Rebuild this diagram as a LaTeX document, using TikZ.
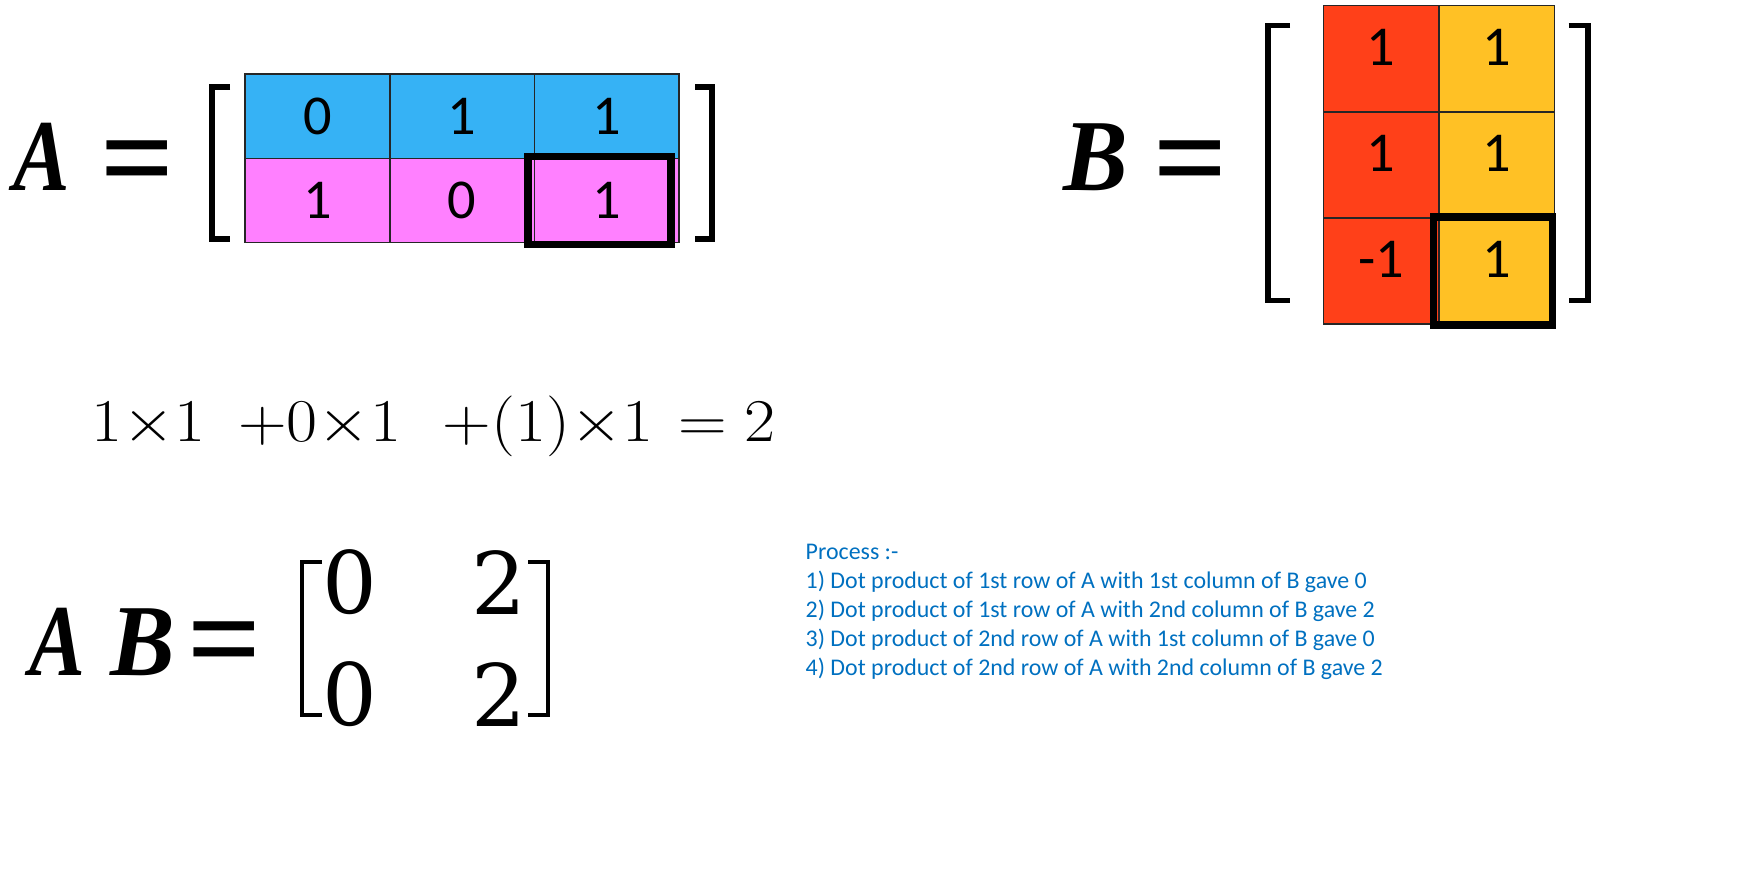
\documentclass[tikz,border=0pt]{standalone}
\usepackage{fontspec}
\newfontfamily\cellfont{Carlito}
\newfontfamily\letterfont{Liberation Serif}
\newfontfamily\entryfont{DejaVu Serif}
\definecolor{cellblue}{RGB}{54,178,245}
\definecolor{cellpink}{RGB}{255,128,255}
\definecolor{cellred}{RGB}{255,64,25}
\definecolor{cellamber}{RGB}{255,193,37}
\definecolor{noteblue}{RGB}{0,112,192}
\usetikzlibrary{positioning}

\begin{document}
\begin{tikzpicture}[
  x=0.01cm, y=-0.01cm,
  node distance=0pt,
  cellA/.style={draw=black!85,line width=0.5pt,outer sep=0pt,inner sep=0pt,
    minimum width=1.447cm,minimum height=0.84cm,
    font=\cellfont\fontsize{16}{16}\selectfont},
  cellB/.style={cellA,minimum width=1.155cm,minimum height=1.06cm,
    text height=0.4cm,text depth=0.27cm},
  hilite/.style={draw=black,line width=2.2pt,inner sep=0pt},
  bracket/.style={line width=1.7pt},
  thinbracket/.style={line width=1.1pt},
  bigletter/.style={font=\letterfont\bfseries\itshape\fontsize{29}{29}\selectfont,
    inner sep=0pt,anchor=base west},
  bigeq/.style={font=\letterfont\bfseries\fontsize{37}{37}\selectfont,
    inner sep=0pt,anchor=base west},
  entry/.style={font=\entryfont\fontsize{24.5}{24.5}\selectfont,inner sep=0pt}
]
\useasboundingbox (0,0) rectangle (1763,894);

% matrix A
\node[bigletter] (lblA) at (13,191) {\scalebox{0.83}[1]{A}};
\node[bigeq] (eqA) at (100,202) {=};
\node[cellA,fill=cellblue] (a11) at (317.4,116.4) {0};
\node[cellA,fill=cellblue,right=of a11] (a12) {1};
\node[cellA,fill=cellblue,right=of a12] (a13) {1};
\node[cellA,fill=cellpink,below=of a11] (a21) {1};
\node[cellA,fill=cellpink,right=of a21] (a22) {0};
\node[cellA,fill=cellpink,right=of a22] (a23) {1};
\node[hilite,minimum width=1.43cm,minimum height=0.88cm] (hlA) at (599.8,200.5) {};
\draw[bracket] (230,87) -- (212,87) -- (212,239) -- (230,239);
\draw[bracket] (695,87) -- (712,87) -- (712,239) -- (695,239);

% matrix B
\node[bigletter] (lblB) at (1062.6,191) {\scalebox{0.95}[1]{B}};
\node[bigeq] (eqB) at (1153,202) {=};
\node[cellB,fill=cellred] (b11) at (1381.2,58.6) {1};
\node[cellB,fill=cellamber,right=of b11] (b12) {1};
\node[cellB,fill=cellred,below=of b11] (b21) {1};
\node[cellB,fill=cellamber,right=of b21] (b22) {1};
\node[cellB,fill=cellred,below=of b21] (b31) {-1};
\node[cellB,fill=cellamber,right=of b31] (b32) {1};
\node[hilite,minimum width=1.19cm,minimum height=1.08cm] (hlB) at (1493,271) {};
\draw[bracket] (1290,25.5) -- (1268,25.5) -- (1268,300.5) -- (1290,300.5);
\draw[bracket] (1568.5,25.5) -- (1588,25.5) -- (1588,300.5) -- (1568.5,300.5);

% worked dot product
\node[anchor=base west,inner sep=0pt,font=\fontsize{18.5}{18.5}\selectfont] (sum)
  at (90.5,441) {\scalebox{1.11}[1]{$1{\times}1\hspace{8.4pt}{+}0{\times}1\hspace{10.7pt}%
  {+}(1){\times}1\hspace{6.5pt}{=}\hspace{4.5pt}2$}};

% result AB
\node[bigletter] (lblAB1) at (29,675) {\scalebox{0.82}[1]{A}};
\node[bigletter] (lblAB2) at (110,675) {\scalebox{0.95}[1]{B}};
\node[bigeq] (eqAB) at (186.7,682.5) {=};
\node[entry] (c11) at (350,582.5) {0};
\node[entry] (c12) at (498.5,582.5) {2};
\node[entry] (c21) at (350,694.5) {0};
\node[entry] (c22) at (498.5,694.5) {2};
\draw[thinbracket] (322,562) -- (302,562) -- (302,715) -- (322,715);
\draw[thinbracket] (528,562) -- (548,562) -- (548,715) -- (528,715);

% notes
\node[anchor=north west,inner sep=0pt,align=left,text=noteblue,
  font=\cellfont\fontsize{6.8}{8.25}\selectfont] (notes) at (805,543)
  {Process :-\\
   1) Dot product of 1st row of A with 1st column of B gave 0\\
   2) Dot product of 1st row of A with 2nd column of B gave 2\\
   3) Dot product of 2nd row of A with 1st column of B gave 0\\
   4) Dot product of 2nd row of A with 2nd column of B gave 2};
\end{tikzpicture}
\end{document}
